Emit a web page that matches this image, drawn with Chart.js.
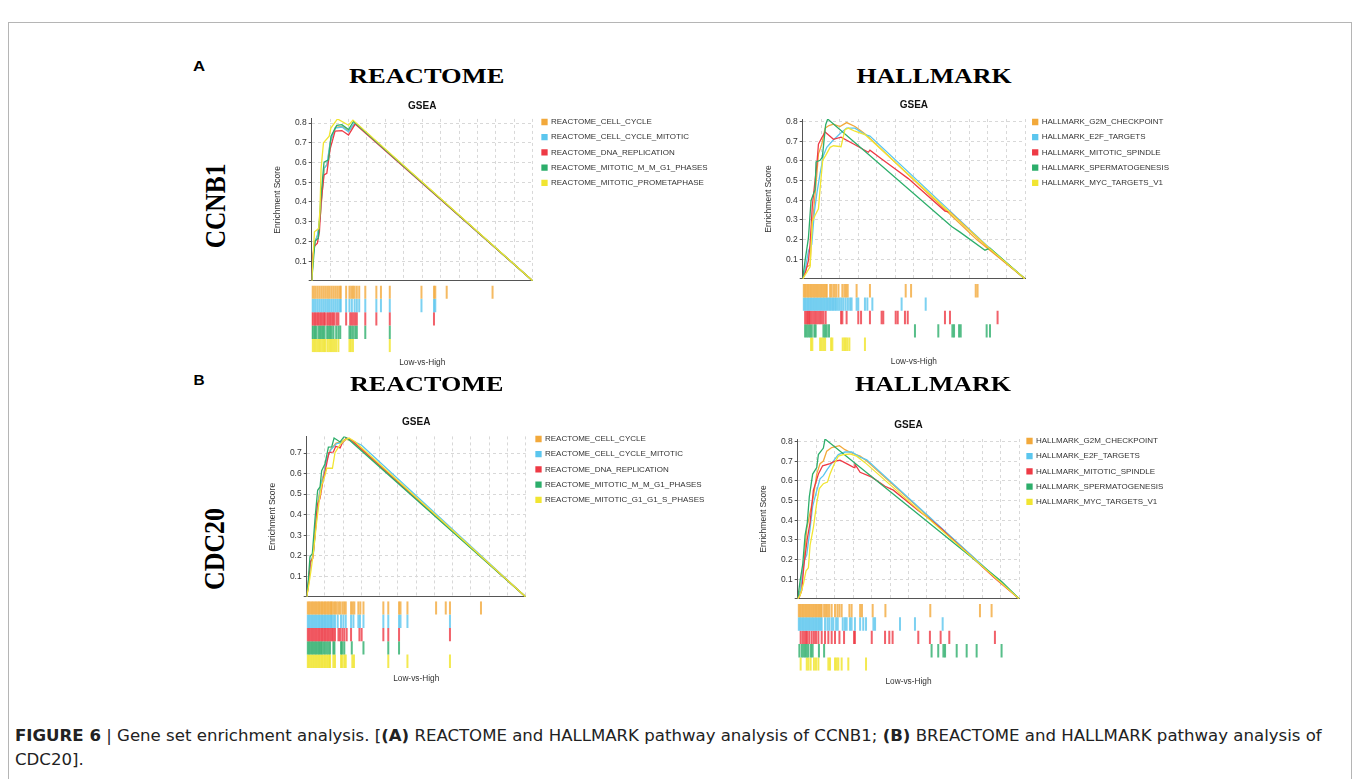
<!DOCTYPE html>
<html><head><meta charset="utf-8">
<script src="https://cdn.jsdelivr.net/npm/chart.js@4.4.1/dist/chart.umd.min.js"></script>
<style>
html,body{margin:0;padding:0;background:#fff;width:1355px;height:779px;overflow:hidden;position:relative;font-family:'Liberation Sans',Arial,sans-serif}
canvas{position:absolute}
.frame{position:absolute;left:8px;top:22px;width:1344px;height:820px;border:1px solid #b5b5b5;box-sizing:border-box}
.t{position:absolute;white-space:nowrap;line-height:1;color:#000}
</style></head><body>
<div class="frame"></div>
<script>
// ---------------- DATA ----------------
// x = rank position (0..1200 across the ranked list), y = running enrichment score
const aR_labels = ['REACTOME_CELL_CYCLE','REACTOME_CELL_CYCLE_MITOTIC','REACTOME_DNA_REPLICATION','REACTOME_MITOTIC_M_M_G1_PHASES','REACTOME_MITOTIC_PROMETAPHASE'];
const aR_cc   = [[0,0],[9,0.137],[20,0.2],[33,0.235],[47,0.33],[58,0.46],[69,0.574],[84,0.59],[102,0.71],[129,0.778],[165,0.783],[202,0.759],[235,0.802],[1200,0]];
const aR_ccm  = [[0,0],[9,0.133],[18,0.2],[31,0.232],[45,0.314],[56,0.446],[67,0.57],[82,0.586],[100,0.701],[127,0.775],[164,0.78],[200,0.756],[233,0.8],[1200,0]];
const aR_dna  = [[0,0],[5,0.117],[13,0.174],[31,0.191],[42,0.249],[51,0.397],[67,0.537],[82,0.545],[100,0.668],[127,0.759],[164,0.762],[200,0.739],[236,0.795],[1200,0]];
const aR_mmg1 = [[0,0],[18,0.202],[36,0.216],[49,0.413],[67,0.602],[91,0.614],[105,0.734],[136,0.788],[164,0.792],[200,0.767],[227,0.808],[1200,0]];
const aR_prom = [[0,0],[15,0.249],[38,0.265],[45,0.364],[51,0.57],[64,0.70],[95,0.734],[104,0.775],[140,0.821],[200,0.789],[224,0.815],[1200,0]];
const aR_cc_hits   = [2,12,22,33,44,55,66,77,88,98,109,120,131,142,153,158,187,205,215,224,233,245,258,291,351,376,424,596,664,671,733,982];
const aR_ccm_hits  = [2,12,22,33,44,55,66,77,88,98,109,120,131,142,153,158,187,205,218,233,245,258,291,351,376,424,596,664,671];
const aR_dna_hits  = [2,10,18,26,34,42,50,58,66,72,84,92,100,108,116,124,136,145,187,209,218,227,236,245,291,351,424,664];
const aR_mmg1_hits = [2,10,18,26,38,46,54,62,70,84,92,100,108,118,133,145,155,205,213,224,236,245,291,424];
const aR_prom_hits = [4,13,22,31,40,49,58,67,75,87,96,105,115,124,133,145,205,213,224,424];

const aH_labels = ['HALLMARK_G2M_CHECKPOINT','HALLMARK_E2F_TARGETS','HALLMARK_MITOTIC_SPINDLE','HALLMARK_SPERMATOGENESIS','HALLMARK_MYC_TARGETS_V1'];
const aH_g2m   = [[0,0],[22,0.061],[40,0.07],[49,0.241],[63,0.389],[76,0.529],[85,0.636],[103,0.685],[121,0.767],[142,0.78],[166,0.787],[201,0.775],[237,0.795],[282,0.775],[318,0.751],[345,0.731],[939,0.2],[1200,0]];
const aH_e2f   = [[0,0],[13,0.044],[31,0.143],[49,0.176],[63,0.34],[77,0.439],[94,0.537],[112,0.628],[130,0.669],[160,0.701],[201,0.738],[237,0.767],[282,0.767],[336,0.734],[363,0.726],[1002,0.163],[1200,0]];
const aH_ms    = [[0,0],[16,0.036],[31,0.094],[40,0.176],[52,0.373],[67,0.504],[76,0.578],[85,0.685],[103,0.718],[121,0.747],[166,0.71],[207,0.721],[282,0.682],[354,0.644],[363,0.655],[426,0.61],[498,0.56],[570,0.51],[768,0.345],[795,0.34],[1002,0.158],[1200,0]];
const aH_sperm = [[0,0],[13,0.094],[31,0.209],[45,0.398],[67,0.455],[72,0.595],[94,0.603],[106,0.619],[124,0.784],[135,0.813],[804,0.266],[849,0.238],[984,0.146],[1011,0.156],[1200,0]];
const aH_myc   = [[0,0],[40,0.061],[52,0.291],[67,0.324],[85,0.356],[95,0.471],[108,0.603],[124,0.628],[148,0.669],[166,0.677],[207,0.672],[228,0.759],[246,0.767],[282,0.751],[336,0.734],[1002,0.16],[1200,0]];
const aH_g2m_hits   = [4,12,20,28,36,44,52,60,68,76,84,92,100,108,116,124,130,148,157,169,180,193,214,225,234,243,291,363,556,585,934,944];
const aH_e2f_hits   = [4,12,20,28,36,44,52,60,68,76,84,92,100,108,116,124,132,140,148,156,164,172,180,190,200,210,220,232,244,256,264,291,300,336,349,376,534,664];
const aH_ms_hits    = [13,22,27,34,40,49,58,67,76,85,94,103,112,124,207,214,237,300,315,363,426,435,502,513,552,567,768,795,1052];
const aH_sperm_hits = [13,22,31,40,49,63,70,112,121,130,142,606,732,808,817,844,853,993,1011];
const aH_myc_hits   = [45,52,94,103,112,121,153,160,216,225,232,241,252,336];

const bR_labels = ['REACTOME_CELL_CYCLE','REACTOME_CELL_CYCLE_MITOTIC','REACTOME_DNA_REPLICATION','REACTOME_MITOTIC_M_M_G1_PHASES','REACTOME_MITOTIC_G1_G1_S_PHASES'];
const bR_cc   = [[0,0],[9,0.06],[20,0.163],[35,0.203],[49,0.345],[62,0.464],[77,0.546],[91,0.591],[106,0.657],[130,0.717],[161,0.749],[188,0.754],[214,0.768],[247,0.759],[1200,0]];
const bR_ccm  = [[0,0],[9,0.068],[22,0.163],[37,0.211],[51,0.353],[64,0.456],[79,0.551],[91,0.583],[110,0.67],[133,0.717],[164,0.746],[188,0.749],[219,0.768],[247,0.762],[301,0.738],[1200,0]];
const bR_dna  = [[0,0],[9,0.052],[20,0.171],[33,0.187],[46,0.306],[58,0.448],[73,0.48],[88,0.559],[100,0.607],[122,0.702],[146,0.705],[159,0.733],[183,0.725],[195,0.749],[219,0.773],[247,0.762],[1200,0]];
const bR_mmg1 = [[0,0],[9,0.084],[18,0.195],[31,0.211],[46,0.385],[60,0.519],[73,0.535],[82,0.614],[100,0.646],[119,0.729],[137,0.73],[150,0.773],[183,0.754],[206,0.781],[232,0.765],[1200,0]];
const bR_g1s  = [[0,0],[9,0.044],[24,0.131],[38,0.226],[53,0.353],[68,0.464],[82,0.543],[100,0.591],[110,0.626],[141,0.626],[155,0.702],[183,0.741],[206,0.762],[232,0.773],[265,0.755],[1200,0]];
const bR_cc_hits   = [4,12,20,28,36,44,52,60,68,76,84,92,100,108,116,124,132,137,146,155,164,174,183,195,205,214,243,252,261,283,294,311,420,447,506,514,552,709,762,785,955];
const bR_ccm_hits  = [4,12,20,28,36,44,52,60,68,76,84,92,100,108,116,124,132,137,146,155,170,188,201,214,243,256,283,292,311,420,447,506,514,552,785];
const bR_dna_hits  = [4,12,20,28,36,44,52,60,68,76,84,92,100,108,116,124,132,140,146,155,174,183,195,206,219,243,289,301,420,447,506,785];
const bR_mmg1_hits = [4,12,20,28,36,44,52,60,68,76,82,91,100,110,119,128,146,152,188,195,206,247,311,447,506];
const bR_g1s_hits  = [4,12,20,28,36,44,52,60,68,76,84,92,100,108,116,124,128,146,155,188,195,206,214,250,259,447,552,785];

const bH_labels = ['HALLMARK_G2M_CHECKPOINT','HALLMARK_E2F_TARGETS','HALLMARK_MITOTIC_SPINDLE','HALLMARK_SPERMATOGENESIS','HALLMARK_MYC_TARGETS_V1'];
const bH_g2m   = [[0,0],[13,0.043],[31,0.158],[49,0.356],[63,0.421],[85,0.52],[103,0.635],[121,0.688],[139,0.701],[157,0.751],[184,0.77],[226,0.779],[256,0.759],[292,0.742],[338,0.726],[374,0.701],[1200,0]];
const bH_e2f   = [[0,0],[13,0.03],[34,0.191],[49,0.224],[67,0.356],[81,0.471],[99,0.537],[121,0.611],[139,0.627],[161,0.66],[193,0.701],[220,0.734],[256,0.747],[292,0.747],[338,0.721],[374,0.707],[1200,0]];
const bH_ms    = [[0,0],[9,0.01],[22,0.043],[34,0.174],[52,0.306],[67,0.388],[85,0.553],[99,0.594],[112,0.635],[135,0.677],[175,0.688],[202,0.701],[229,0.705],[265,0.688],[305,0.668],[310,0.685],[338,0.644],[401,0.619],[473,0.573],[518,0.553],[653,0.45],[716,0.405],[780,0.355],[825,0.315],[1068,0.105],[1200,0]];
const bH_sperm = [[0,0],[13,0.092],[27,0.174],[40,0.323],[52,0.388],[63,0.52],[81,0.635],[103,0.668],[112,0.734],[139,0.767],[148,0.813],[1104,0.089],[1200,0]];
const bH_myc   = [[0,0],[13,0.018],[31,0.076],[45,0.142],[58,0.158],[67,0.273],[85,0.364],[103,0.487],[117,0.561],[139,0.586],[161,0.594],[175,0.635],[197,0.685],[220,0.726],[247,0.734],[283,0.737],[319,0.726],[365,0.693],[1200,0]];
const bH_g2m_hits   = [4,12,20,28,36,44,52,60,68,76,84,92,100,108,116,124,130,143,153,162,171,184,202,215,226,238,280,292,338,348,406,475,718,987,1050];
const bH_e2f_hits   = [4,12,20,28,36,44,52,60,68,76,84,92,100,108,116,124,130,148,161,171,184,193,208,217,244,256,265,283,292,310,338,355,370,410,419,554,635,785];
const bH_ms_hits    = [16,27,36,45,52,63,76,88,99,112,130,148,166,184,202,226,251,305,310,401,473,496,514,653,716,774,821,1068];
const bH_sperm_hits = [9,22,31,40,49,58,72,81,115,143,725,761,789,798,861,915,969,1104];
const bH_myc_hits   = [16,49,58,70,88,99,112,166,175,202,211,220,238,274,370];

// ---------------- RENDER ----------------
const FAMILY = "'Liberation Sans', Arial, sans-serif";
Chart.defaults.font.family = FAMILY;
const COLORS = ['#F2A93B','#5BC6EE','#EE3A45','#2DAE6B','#F1E532'];
const TICKCOL = ['rgba(242,169,59,0.8)','rgba(91,198,238,0.8)','rgba(238,58,69,0.8)','rgba(45,174,107,0.8)','rgba(241,229,50,0.85)'];
const measCtx = document.createElement('canvas').getContext('2d');

function addCanvas(left, top, w, h){
  const c = document.createElement('canvas');
  c.width = w; c.height = h;
  c.style.left = left + 'px'; c.style.top = top + 'px';
  c.style.width = w + 'px'; c.style.height = h + 'px';
  document.body.appendChild(c);
  return c;
}

function makePanel(g, labels, curves, hits){
  const ymax = Math.max(...curves.flat().map(p => p[1]));
  const chartTop = g.y0 - ymax * g.k;
  const cl = Math.round(g.x0 - 46);
  const AW = g.x0 - cl;
  const T = Math.round(g.titleC - 10);
  const pt = g.titleC - 6 - T;
  const pb = chartTop - T - pt - 12;
  const H = Math.ceil(g.y0 + 2 - T);
  const padB = H - (g.y0 - T);
  const LPAD = 7.2, LFONT = 8, LBOX = 5;
  measCtx.font = LFONT + 'px ' + FAMILY;
  const maxT = Math.max(...labels.map(l => measCtx.measureText(l).width));
  const LW = Math.floor(LPAD + LBOX + LFONT / 2 + maxT + 10 - 3);
  const gap = g.legendBoxX - LPAD - g.x1;
  const W = Math.ceil(g.x1 - cl + gap + LW + 6);
  const padR = W - (g.x1 - cl) - gap - LW;
  const legTitleH = g.legendY0 - T - LPAD - LFONT / 2;

  new Chart(addCanvas(cl, T, W, H), {
    type: 'line',
    data: { datasets: curves.map((c, i) => ({
      label: labels[i], data: c, borderColor: COLORS[i], backgroundColor: COLORS[i],
      borderWidth: 1.3, pointRadius: 0, tension: 0, order: 4 - i
    })) },
    options: {
      responsive: false, animation: false, events: [],
      layout: { autoPadding: false, padding: { left: 0, top: 0, right: padR, bottom: padB } },
      plugins: {
        tooltip: { enabled: false },
        title: { display: true, text: 'GSEA', fullSize: false, color: '#111',
                 font: { size: 10, weight: 'bold', lineHeight: 1.2 }, padding: { top: pt, bottom: pb } },
        legend: {
          position: 'right', align: 'start', maxWidth: LW,
          title: { display: true, text: '', font: { size: 1, lineHeight: 1 }, padding: { top: legTitleH - 1, bottom: 0 } },
          labels: { boxWidth: LBOX, boxHeight: LBOX, padding: LPAD, color: '#333', font: { size: LFONT },
                    sort: (a, b) => a.datasetIndex - b.datasetIndex }
        }
      },
      scales: {
        x: { type: 'linear', min: 0, max: 1200,
             ticks: { display: false, stepSize: 100 },
             grid: { color: '#d8d8d8', drawTicks: false },
             border: { display: true, color: '#555', dash: [3, 3] },
             afterFit: s => { s.height = 0; } },
        y: { type: 'linear', min: 0, max: ymax,
             ticks: { stepSize: 0.1, includeBounds: false, color: '#333', font: { size: 8.5 }, padding: 2,
                      callback: v => (v < 0.05 ? '' : v.toFixed(1)) },
             grid: { color: '#d8d8d8', tickLength: 3, tickColor: '#555' },
             border: { display: true, color: '#555', dash: [3, 3] },
             title: { display: true, text: 'Enrichment Score', color: '#333', font: { size: 8.5 },
                      padding: { top: AW - 38.8, bottom: 0 } },
             afterFit: s => { s.width = AW; } },
        r: { type: 'linear', position: 'right', display: true,
             grid: { display: false }, border: { display: false }, ticks: { display: false },
             afterFit: s => { s.width = gap; } }
      }
    }
  });

  // barcode chart
  const bl = Math.floor(g.x0);
  const bt = Math.floor(g.y0);
  const padL = g.x0 - bl, padT = g.y0 - bt;
  const BW = Math.ceil(g.x1 - bl + 2);
  const padRb = BW - (g.x1 - bl);
  const BH = Math.ceil(g.lowY + 7 - bt);
  const rowsH = 5 * g.rowH;
  const hx = BH - padT - rowsH;
  new Chart(addCanvas(bl, bt, BW, BH), {
    type: 'scatter',
    data: { datasets: hits.map((h, i) => ({
      data: h.map(x => ({ x: x, y: i })),
      pointStyle: 'line', pointRotation: 90, pointRadius: g.rowH / 2, pointHoverRadius: g.rowH / 2,
      pointBorderColor: TICKCOL[i], borderColor: TICKCOL[i], pointBorderWidth: 2, showLine: false
    })) },
    options: {
      responsive: false, animation: false, events: [],
      layout: { autoPadding: false, padding: { left: padL, top: padT, right: padRb, bottom: 0 } },
      plugins: { legend: { display: false }, tooltip: { enabled: false } },
      scales: {
        x: { type: 'linear', min: 0, max: 1200,
             ticks: { display: false }, grid: { display: false }, border: { display: false },
             title: { display: true, text: 'Low-vs-High', color: '#333', font: { size: 8.3, lineHeight: 1.2 },
                      padding: { top: 0, bottom: 2 } },
             afterFit: s => { s.height = hx; } },
        y: { type: 'linear', min: -0.5, max: 4.5, reverse: true, display: false }
      }
    }
  });
}

makePanel({x0:311.7, x1:532.7, y0:285.5, k:202.9, titleC:106, legendBoxX:542, legendY0:122, lowY:362.7, rowH:13.35},
  aR_labels, [aR_cc, aR_ccm, aR_dna, aR_mmg1, aR_prom], [aR_cc_hits, aR_ccm_hits, aR_dna_hits, aR_mmg1_hits, aR_prom_hits]);
makePanel({x0:802.7, x1:1025, y0:284, k:202.9, titleC:105.7, legendBoxX:1032.7, legendY0:122, lowY:361.7, rowH:13.4},
  aH_labels, [aH_g2m, aH_e2f, aH_ms, aH_sperm, aH_myc], [aH_g2m_hits, aH_e2f_hits, aH_ms_hits, aH_sperm_hits, aH_myc_hits]);
makePanel({x0:306.7, x1:525.7, y0:601.2, k:211, titleC:422.7, legendBoxX:536, legendY0:439, lowY:679, rowH:13.35},
  bR_labels, [bR_cc, bR_ccm, bR_dna, bR_mmg1, bR_g1s], [bR_cc_hits, bR_ccm_hits, bR_dna_hits, bR_mmg1_hits, bR_g1s_hits]);
makePanel({x0:797.7, x1:1019.3, y0:604, k:202.9, titleC:425.7, legendBoxX:1027, legendY0:441, lowY:681.7, rowH:13.35},
  bH_labels, [bH_g2m, bH_e2f, bH_ms, bH_sperm, bH_myc], [bH_g2m_hits, bH_e2f_hits, bH_ms_hits, bH_sperm_hits, bH_myc_hits]);

// ---------------- TEXT ----------------
function placeText(txt, cx, cy, font, targetLen, rot, thick){
  const el = document.createElement('div');
  el.className = 't';
  el.textContent = txt;
  el.style.font = font;
  el.style.lineHeight = '1';
  document.body.appendChild(el);
  const w = el.offsetWidth, h = el.offsetHeight;
  el.style.left = (cx - w / 2) + 'px';
  el.style.top = (cy - h / 2) + 'px';
  el.style.transformOrigin = '50% 50%';
  const sx = targetLen / w;
  el.style.transform = (rot ? 'rotate(-90deg) ' : '') + 'scale(' + sx + ',' + (thick || 1) + ')';
}
const SERIF = "'Liberation Serif','Times New Roman',serif";
const SANS = "'Liberation Sans',Arial,sans-serif";
placeText('REACTOME', 426, 76.3, 'bold 21px ' + SERIF, 155);
placeText('HALLMARK', 933.5, 76, 'bold 21px ' + SERIF, 155);
placeText('REACTOME', 426, 384, 'bold 21px ' + SERIF, 153);
placeText('HALLMARK', 933, 384, 'bold 21px ' + SERIF, 156);
placeText('A', 199, 66, 'bold 14px ' + SANS, 12);
placeText('B', 198.5, 379.5, 'bold 14px ' + SANS, 11);
placeText('CCNB1', 215, 205.8, 'bold 26px ' + SERIF, 85, true, 1.16);
placeText('CDC20', 215, 549, 'bold 26px ' + SERIF, 81.7, true, 1.16);

// caption
(function(){
  const mk = (html, top) => {
    const d = document.createElement('div');
    d.className = 't';
    d.style.font = "15px 'Liberation Sans Narrow','DejaVu Sans Condensed','Liberation Sans',sans-serif";
    d.style.color = '#222';
    d.style.lineHeight = '1';
    d.style.left = '15px';
    d.style.top = top + 'px';
    d.style.transformOrigin = '0 50%';
    d.innerHTML = html;
    document.body.appendChild(d);
    return d;
  };
  const l1 = mk('<b>FIGURE 6</b> | Gene set enrichment analysis. [<b>(A)</b> REACTOME and HALLMARK pathway analysis of CCNB1; <b>(B)</b> BREACTOME and HALLMARK pathway analysis of', 728.5);
  const l2 = mk('CDC20].', 752.5);
  const s = 1307 / l1.offsetWidth;
  l1.style.transform = 'scaleX(' + s + ')';
  l2.style.transform = 'scaleX(' + s + ')';
})();
</script>
</body></html>
